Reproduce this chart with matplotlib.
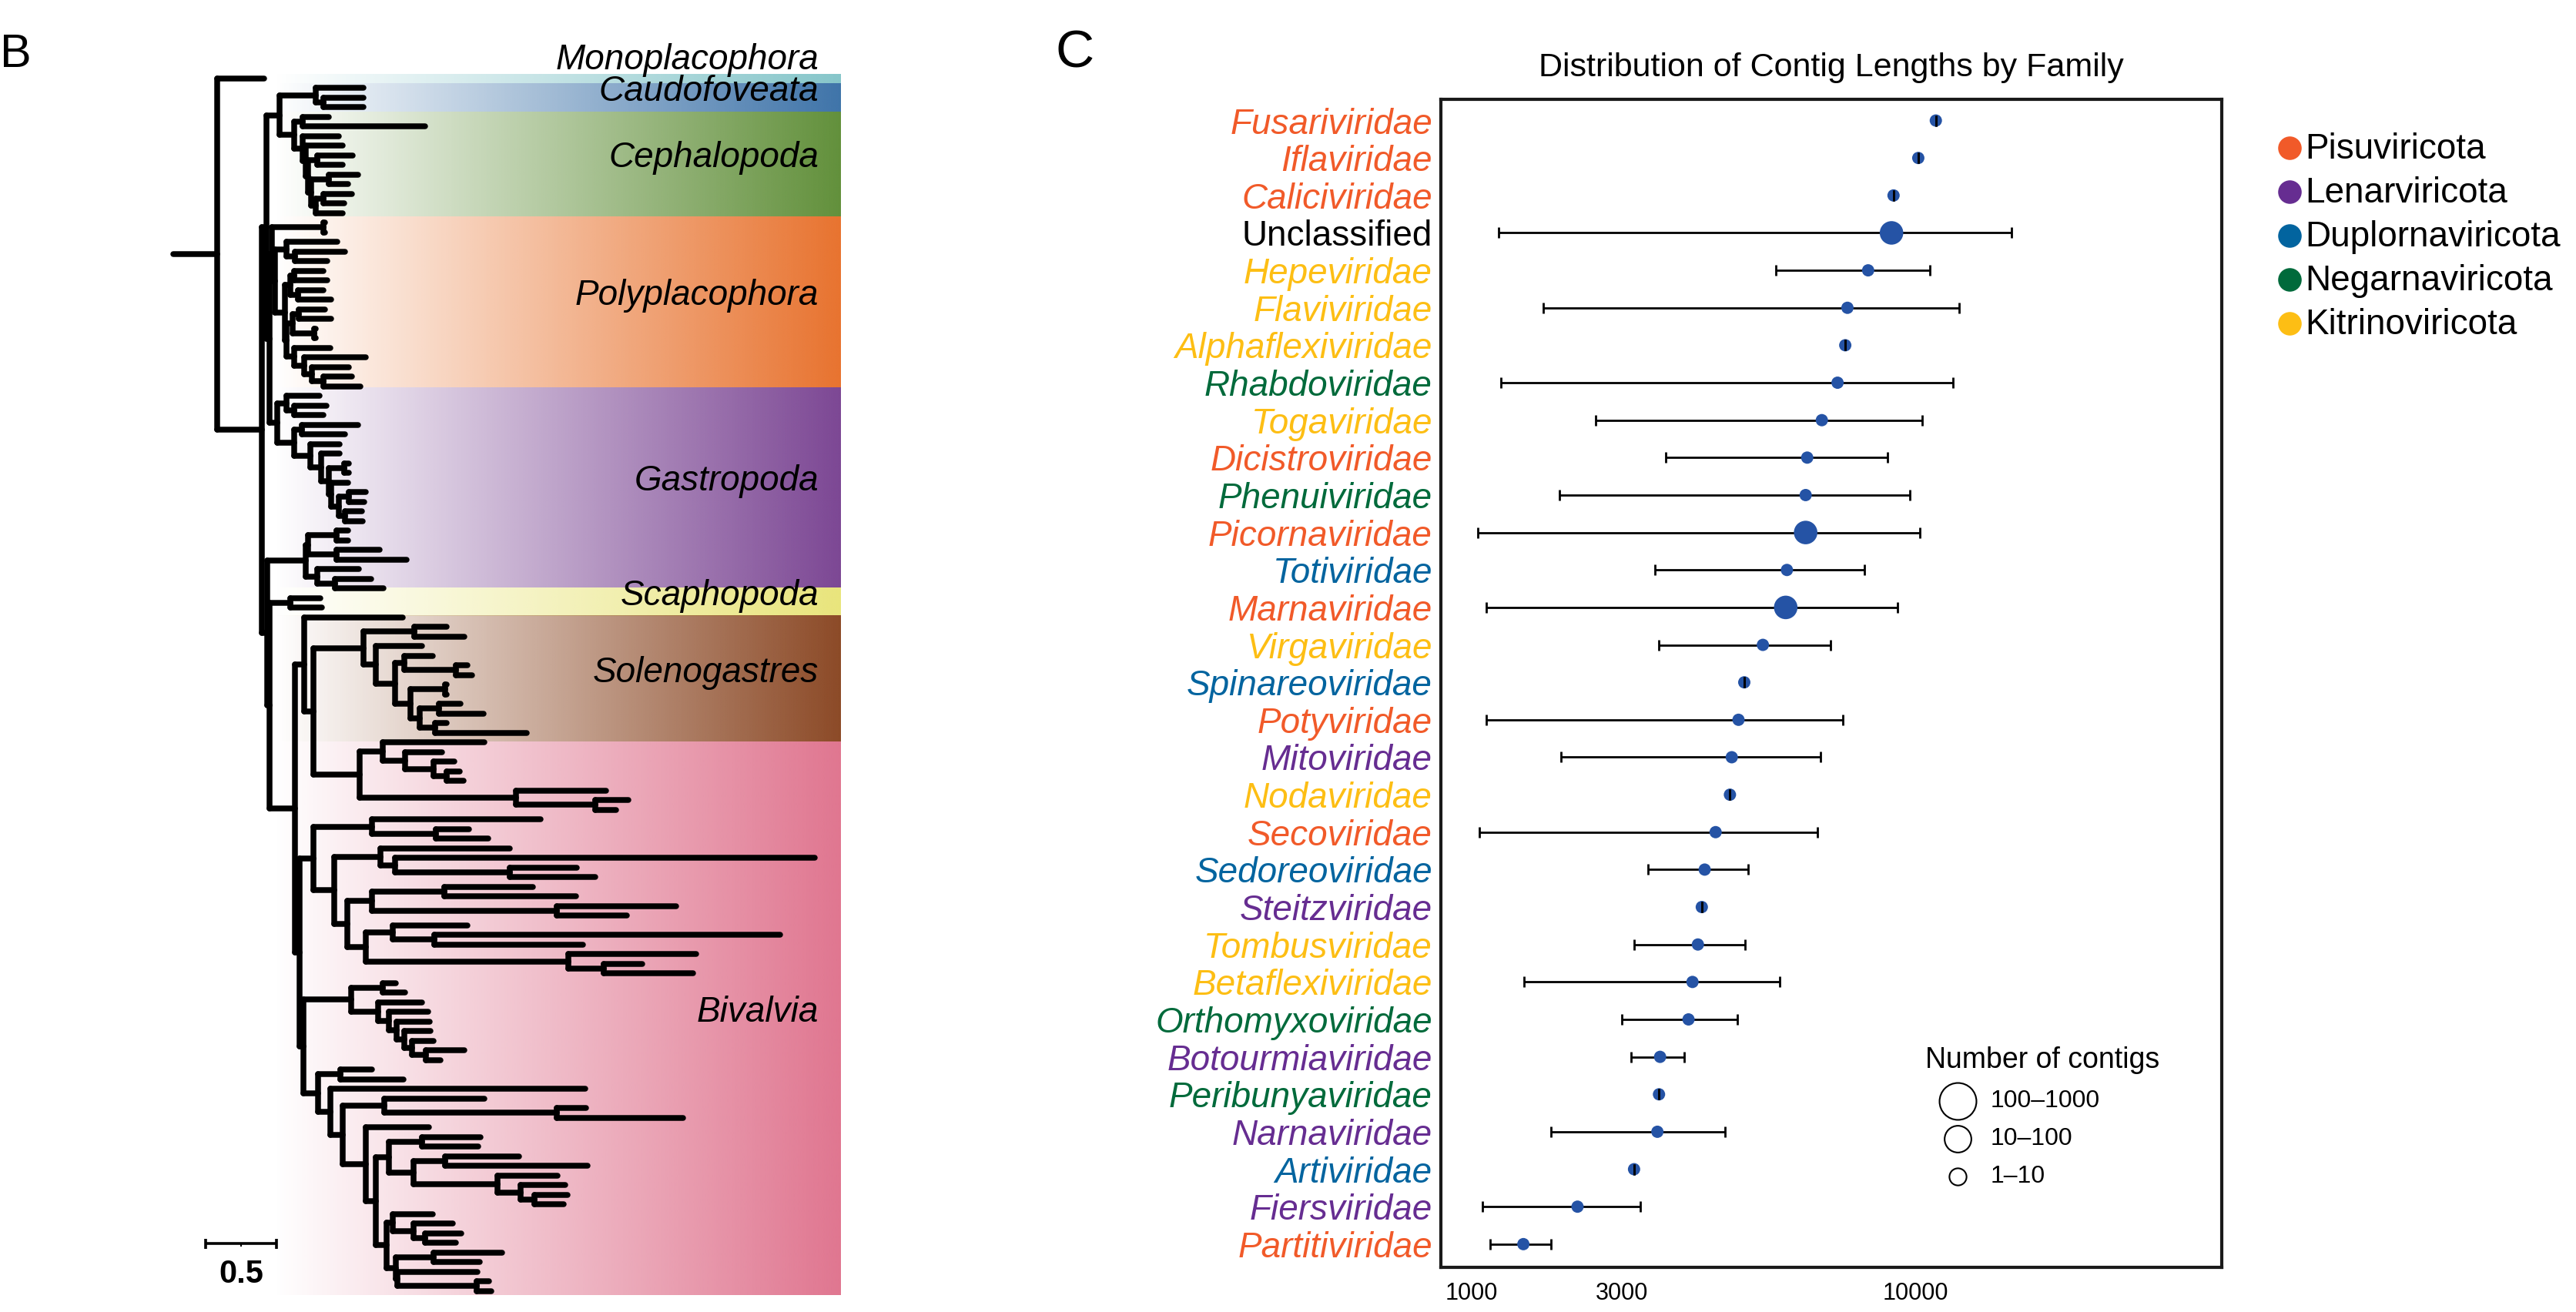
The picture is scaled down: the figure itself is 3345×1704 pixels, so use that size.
import numpy as np
import matplotlib
matplotlib.use("Agg")
import matplotlib.pyplot as plt
from matplotlib.collections import LineCollection
from matplotlib.colors import to_rgb

plt.rcParams['font.family'] = ['Liberation Sans', 'DejaVu Sans']

W, H = 3345, 1704

# ---------------- panel B: mollusc tree ----------------
# branch lengths in tree units (scale bar = 0.5)
caudo = "(ca:0.337,(ca:0.283,ca:0.283):0.054):0.255"
ceph = ("((ce:0.185,ce:0.864):0.06,(ce:0.255,(ce:0.261,((ce:0.25,ce:0.179):0.065,"
        "((ce:0.207,ce:0.136):0.125,((ce:0.201,ce:0.147):0.054,ce:0.19):0.033):0.022)"
        ":0.016):0.022):0.06):0.103")
poly_top = "(po:0.011,po:0.011):0.364"
poly_a = "(po:0.359,(po:0.353,po:0.228):0.06):0.082"
poly_q = "((po:0.207,po:0.234):0.027,(po:0.179,po:0.234):0.054):0.038"
poly_m = "((po:0.185,po:0.228):0.043,(po:0.011,po:0.011):0.152):0.043"
poly_l = "(po:0.255,(po:0.435,(po:0.261,(po:0.201,po:0.261):0.082):0.054):0.071):0.054"
poly = f"({poly_top},({poly_a},({poly_q},({poly_m},{poly_l}):0.011):0.071):0.022):0.016"
gast1 = ("((ga:0.234,(ga:0.228,ga:0.207):0.054):0.065,((ga:0.397,ga:0.304):0.054,"
         "(ga:0.207,(ga:0.13,((ga:0.033,ga:0.033):0.109,(ga:0.12,((ga:0.12,ga:0.109):0.071,"
         "(ga:0.12,ga:0.125):0.043):0.054):0.016):0.054):0.076):0.114):0.12):0.054")
gast2 = ("(((ga:0.082,ga:0.082):0.201,(ga:0.304,ga:0.495):0.201):0.016,"
         "(ga:0.293,(ga:0.255,ga:0.342):0.125):0.082):0.272")
scapho = "(sc:0.212,sc:0.223):0.147"
soleno = ("((so:0.228,so:0.353):0.359,(so:0.326,((so:0.201,(so:0.082,so:0.114):0.364):0.065,"
          "((so:0.011,so:0.011):0.245,((so:0.152,so:0.315):0.136,(so:0.082,so:0.647):0.109)"
          ":0.065):0.109):0.136):0.087):0.353")
biv1 = ("((bi:0.717,(bi:0.261,(bi:0.147,(bi:0.092,bi:0.12):0.092):0.201):0.158):0.163,"
        "(bi:0.636,(bi:0.234,bi:0.147):0.56):1.103):0.326")
biv2 = ("((bi:1.188,(bi:0.234,bi:0.37):0.451):0.413,((bi:0.913,(bi:2.962,(bi:0.473,bi:0.603)"
        ":0.81):0.103):0.326,(((bi:0.625,bi:0.929):0.511,(bi:0.842,bi:0.495):1.304):0.177,"
        "((bi:0.527,(bi:2.44,bi:1.049):0.293):0.19,(bi:0.902,(bi:0.272,bi:0.63):0.25):1.429)"
        ":0.133):0.09):0.147):0.098")
biv3 = ("((bi:0.092,bi:0.158):0.223,(bi:0.31,(bi:0.277,(bi:0.234,(bi:0.185,(bi:0.152,"
        "(bi:0.272,bi:0.103):0.098):0.054):0.054):0.054):0.076):0.19):0.337")
biv4 = ("((bi:0.223,bi:0.446):0.158,(bi:1.799,((bi:0.707,(bi:0.207,bi:0.891):1.217):0.293,"
        "(bi:0.446,(((bi:0.413,bi:0.397):0.234,((bi:0.522,bi:1.005):0.223,(bi:0.424,"
        "(bi:0.315,(bi:0.234,bi:0.207):0.098):0.163):0.592):0.174):0.092,((bi:0.283,"
        "(bi:0.277,(bi:0.255,bi:0.217):0.082):0.147):0.043,((bi:0.484,bi:0.326):0.266,"
        "(bi:0.565,(bi:0.087,bi:0.103):0.56):0.011):0.065):0.076):0.071):0.163):0.087)"
        ":0.087):0.103")
lower = (f"({gast2},({scapho},((so:0.696,({soleno},{biv1}):0.065):0.065,"
         f"({biv2},({biv3},{biv4}):0.027):0.033):0.179):0.016):0.038")
tree_newick = f"(mo:0.332,((({caudo},{ceph}):0.092,({poly},{gast1}):0.022):0.033,{lower}):0.315):0.31;"

clade_names = ["Monoplacophora", "Caudofoveata", "Cephalopoda", "Polyplacophora",
               "Gastropoda", "Scaphopoda", "Solenogastres", "Bivalvia"]
clade_colors = ["#86C6CA", "#3F74A9", "#62903B", "#E8732F",
                "#7C4794", "#E9E57C", "#8C4A27", "#E07690"]
band_top = [-0.46, 0.5, 3.46, 14.34, 32.1, 52.9, 55.86, 68.9]      # leaf rows
band_bottom = [0.5, 3.46, 14.34, 32.1, 52.9, 55.86, 68.9, 126.4]

# ---------------- panel C: contig lengths ----------------
families = ["Fusariviridae", "Iflaviridae", "Caliciviridae", "Unclassified", "Hepeviridae",
            "Flaviviridae", "Alphaflexiviridae", "Rhabdoviridae", "Togaviridae", "Dicistroviridae",
            "Phenuiviridae", "Picornaviridae", "Totiviridae", "Marnaviridae", "Virgaviridae",
            "Spinareoviridae", "Potyviridae", "Mitoviridae", "Nodaviridae", "Secoviridae",
            "Sedoreoviridae", "Steitzviridae", "Tombusviridae", "Betaflexiviridae",
            "Orthomyxoviridae", "Botourmiaviridae", "Peribunyaviridae", "Narnaviridae",
            "Artiviridae", "Fiersviridae", "Partitiviridae"]
phylum = ["Pisuviricota", "Pisuviricota", "Pisuviricota", "Unclassified", "Kitrinoviricota",
          "Kitrinoviricota", "Kitrinoviricota", "Negarnaviricota", "Kitrinoviricota", "Pisuviricota",
          "Negarnaviricota", "Pisuviricota", "Duplornaviricota", "Pisuviricota", "Kitrinoviricota",
          "Duplornaviricota", "Pisuviricota", "Lenarviricota", "Kitrinoviricota", "Pisuviricota",
          "Duplornaviricota", "Lenarviricota", "Kitrinoviricota", "Kitrinoviricota",
          "Negarnaviricota", "Lenarviricota", "Negarnaviricota", "Lenarviricota",
          "Duplornaviricota", "Lenarviricota", "Pisuviricota"]
mean_len = [10630, 10080, 9330, 9270, 8590, 8010, 7950, 7740, 7320, 6940, 6900, 6900, 6430,
            6400, 5850, 5420, 5290, 5140, 5100, 4790, 4560, 4500, 4420, 4310, 4230, 3680,
            3660, 3630, 3210, 2300, 1570]
low_len = [10630, 10080, 9330, 1280, 6160, 1820, 7950, 1310, 2580, 3780, 2040, 1060, 3590,
           1150, 3650, 5420, 1150, 2060, 5100, 1080, 3460, 4500, 3210, 1580, 3000, 3160,
           3660, 1920, 3210, 1110, 1190]
high_len = [10630, 10080, 9330, 13160, 10440, 11390, 7950, 11170, 10210, 9160, 9820, 10130,
            8480, 9440, 7560, 5420, 7890, 7280, 5100, 7200, 5500, 4500, 5430, 6260, 5260,
            4140, 3660, 5000, 3210, 3320, 1920]
contig_bin = ["1–10", "1–10", "1–10", "10–100", "1–10", "1–10", "1–10", "1–10", "1–10",
              "1–10", "1–10", "10–100", "1–10", "10–100", "1–10", "1–10", "1–10", "1–10",
              "1–10", "1–10", "1–10", "1–10", "1–10", "1–10", "1–10", "1–10", "1–10",
              "1–10", "1–10", "1–10", "1–10"]

phyla = ["Pisuviricota", "Lenarviricota", "Duplornaviricota", "Negarnaviricota", "Kitrinoviricota"]
phylum_colors = {"Pisuviricota": "#F15A29", "Lenarviricota": "#662D91",
                 "Duplornaviricota": "#02649F", "Negarnaviricota": "#006A3B",
                 "Kitrinoviricota": "#FDBE14", "Unclassified": "black"}
size_bins = ["100–1000", "10–100", "1–10"]
dot_size = {"1–10": 11.5, "10–100": 22, "100–1000": 30}      # points
legend_size = {"100–1000": 34.5, "10–100": 25, "1–10": 16}


def parse_newick(s):
    pos = 0

    def node():
        nonlocal pos
        kids = []
        if s[pos] == '(':
            pos += 1
            kids.append(node())
            while s[pos] == ',':
                pos += 1
                kids.append(node())
            pos += 1
        st = pos
        while s[pos] not in ':,();':
            pos += 1
        name = s[st:pos]
        bl = 0.0
        if s[pos] == ':':
            pos += 1
            st = pos
            while s[pos] not in ',();':
                pos += 1
            bl = float(s[st:pos])
        return {'name': name, 'len': bl, 'kids': kids}
    return node()


def layout(nd, x, counter):
    nd['x'] = x
    if not nd['kids']:
        nd['y'] = counter[0]
        counter[0] += 1
    else:
        for k in nd['kids']:
            layout(k, x + k['len'], counter)
        nd['y'] = (nd['kids'][0]['y'] + nd['kids'][-1]['y']) / 2


def segments(nd, out):
    for k in nd['kids']:
        out.append([(nd['x'], k['y']), (k['x'], k['y'])])
        segments(k, out)
    if nd['kids']:
        out.append([(nd['x'], nd['kids'][0]['y']), (nd['x'], nd['kids'][-1]['y'])])


fig = plt.figure(figsize=(W / 100, H / 100), dpi=100)

# panel B axes: 1 tree unit = 184 px, root at x=282 px, leaf rows 12.5 px apart from y=101.7 px
ax_b = fig.add_axes([0, 0, 1100 / W, 1])
for name, col, top, bot in zip(clade_names, clade_colors, band_top, band_bottom):
    grad = np.zeros((1, 256, 4))
    grad[..., :3] = to_rgb(col)
    grad[..., 3] = np.linspace(0, 1, 256)
    ax_b.imshow(grad, extent=[0.40, 4.397, bot, top], aspect='auto',
                interpolation='bilinear', zorder=0)

root = parse_newick(tree_newick)
layout(root, 0.0, [0])
segs = [[(-root['len'], root['y']), (0.0, root['y'])]]
segments(root, segs)
ax_b.add_collection(LineCollection(segs, colors='black', linewidths=5.4,
                                   capstyle='round', joinstyle='round', zorder=2))

for name, top, bot in zip(clade_names, band_top, band_bottom):
    if name == "Monoplacophora":
        ax_b.text(4.245, -0.15, name, ha='right', va='bottom', fontsize=33,
                  style='italic', zorder=3)
    else:
        ax_b.text(4.245, (top + bot) / 2 - 0.6, name, ha='right', va='center',
                  fontsize=33, style='italic', zorder=3)

# scale bar
ax_b.plot([-0.08, 0.42], [121.1, 121.1], color='black', lw=2.6, solid_capstyle='butt')
ax_b.vlines([-0.08, 0.42], 120.55, 121.65, color='black', lw=2.6)
ax_b.vlines([0.17], 121.1, 121.4, color='black', lw=1.5)
ax_b.text(0.17, 124.3, "0.5", ha='center', va='center', fontsize=30, fontweight='bold')

ax_b.set_xlim(-282 / 184, (1100 - 282) / 184)
ax_b.set_ylim((H - 101.7) / 12.5, -101.7 / 12.5)
ax_b.axis('off')

# panel C axes
ax_c = fig.add_axes([1871 / W, (H - 1646) / H, (2885 - 1871) / W, (1646 - 129.3) / H])
rows = np.arange(len(families))
ax_c.set_xscale('function', functions=(lambda v: np.sqrt(np.clip(v, 0, None)), np.square))
ax_c.hlines(rows, low_len, high_len, color='black', lw=2.0, zorder=2)
ax_c.scatter(mean_len, rows, s=[dot_size[b] ** 2 for b in contig_bin],
             color='#2553A5', linewidths=0, zorder=3)
for ends in (low_len, high_len):
    ax_c.plot(ends, rows, ls='none', marker='|', ms=10, mew=2.0, color='black', zorder=4)

ax_c.set_xlim(725, 21640)
ax_c.set_ylim(30.62, -0.56)
ax_c.set_xticks([1000, 3000, 10000])
ax_c.set_xticklabels(["1000", "3000", "10000"], fontsize=22)
ax_c.set_yticks(rows)
ax_c.set_yticklabels(families, fontsize=33)
for lbl, ph in zip(ax_c.get_yticklabels(), phylum):
    lbl.set_color(phylum_colors[ph])
    lbl.set_fontstyle('normal' if ph == "Unclassified" else 'italic')
ax_c.tick_params(axis='x', length=0, pad=14)
ax_c.tick_params(axis='y', length=0, pad=8)
ax_c.xaxis.set_minor_locator(matplotlib.ticker.NullLocator())
for sp in ax_c.spines.values():
    sp.set_linewidth(3)
    sp.set_color('#1a1a1a')
ax_c.set_title("Distribution of Contig Lengths by Family", fontsize=31, pad=22)

# overlay in pixel coordinates for panel letters and legends
ax_o = fig.add_axes([0, 0, 1, 1], facecolor='none')
ax_o.set_xlim(0, W)
ax_o.set_ylim(H, 0)
ax_o.axis('off')
ax_o.text(0, 87, "B", fontsize=44, ha='left', va='baseline')
ax_o.text(1370, 88, "C", fontsize=50, ha='left', va='baseline')

for i, ph in enumerate(phyla):
    y = 191.7 + 57 * i
    ax_o.plot(2973, y, marker='o', ms=22, color=phylum_colors[ph], mew=0)
    ax_o.text(2993, y + 2, ph, fontsize=33, ha='left', va='center')

ax_o.text(2500, 1377, "Number of contigs", fontsize=27, ha='left', va='center')
for i, b in enumerate(size_bins):
    y = 1430 + 49 * i
    ax_o.plot(2542, y, marker='o', ms=legend_size[b], mfc='white', mec='black', mew=1.5)
    ax_o.text(2585, y, b, fontsize=23, ha='left', va='center')

fig.savefig("out.png", dpi=100)
